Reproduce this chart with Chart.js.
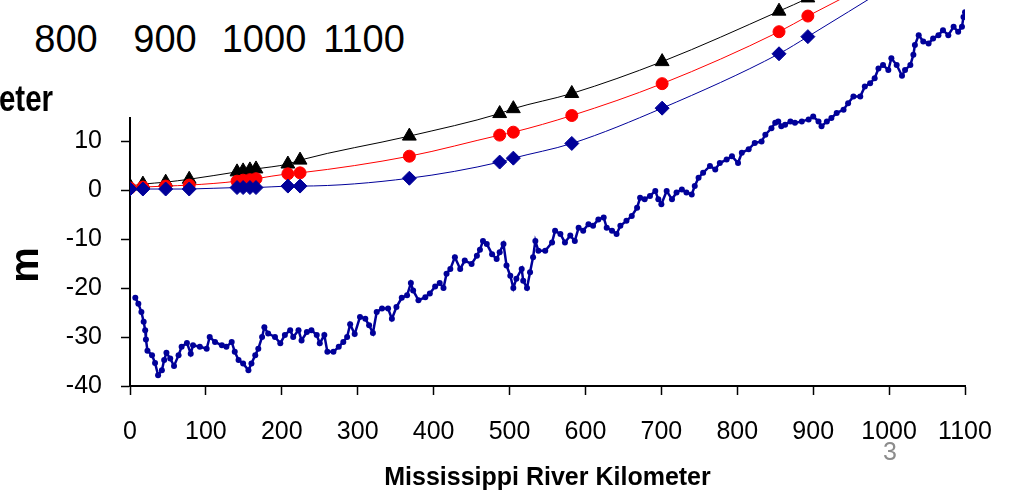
<!DOCTYPE html>
<html>
<head>
<meta charset="utf-8">
<script src="https://cdn.jsdelivr.net/npm/chart.js@4.4.1/dist/chart.umd.min.js"></script>
<style>
html, body { margin: 0; padding: 0; background: #fff; overflow: hidden; }
#wrap { position: relative; width: 1019px; height: 495px; overflow: hidden; font-family: 'Liberation Sans', Arial, sans-serif; }
#grafico { position: absolute; left: 0; top: -40px; }
#cover { position: absolute; left: 0; top: 0; width: 440px; height: 117px; background: #fff; }
.topnum { position: absolute; top: 20px; font-size: 38px; line-height: 38px; transform: translateX(-50%); color: #000; white-space: nowrap; }
#cut { position: absolute; right: 966px; top: 81px; font-size: 36px; line-height: 36px; font-weight: bold; transform: scaleX(0.82); transform-origin: right center; white-space: nowrap; }
#ytitle { position: absolute; left: 24px; top: 265px; font-size: 40px; line-height: 40px; font-weight: bold; transform: translate(-50%, -50%) rotate(-90deg); }
#page { position: absolute; left: 890px; top: 439px; font-size: 25px; line-height: 25px; color: #8c8c8c; transform: translateX(-50%); }
</style>
</head>
<body>
<div id="wrap">
  <canvas id="grafico" width="1019" height="535"></canvas>
  <div id="cover">
    <span class="topnum" style="left:66px">800</span>
    <span class="topnum" style="left:165px">900</span>
    <span class="topnum" style="left:264px">1000</span>
    <span class="topnum" style="left:364px">1100</span>
  </div>
  <div id="cut">eter</div>
  <div id="ytitle">m</div>
  <div id="page">3</div>
</div>
<script>
// gauge stations (river km) and water surface elevations for three stages
const stationKm = [0, 17, 47, 78, 141, 149, 158, 166, 208, 224, 368, 487, 505, 582, 701, 855, 893, 1000]
const stageHigh = [0.8, 1.2, 1.6, 2.2, 3.7, 3.9, 4.1, 4.3, 5.3, 6.1, 11.0, 15.6, 16.6, 19.7, 26.2, 36.5, 39.2, 48.8]
const stageMid = [0.4, 0.6, 0.8, 1.0, 1.8, 2.0, 2.1, 2.3, 3.3, 3.5, 6.9, 11.2, 11.8, 15.2, 21.7, 32.3, 35.5, 44.0]
const stageLow = [0.2, 0.2, 0.2, 0.2, 0.5, 0.5, 0.5, 0.5, 0.8, 0.8, 2.4, 5.7, 6.5, 9.5, 16.7, 27.8, 31.3, 41.5]

// thalweg (river bed) profile
const bedKm = [7, 11, 15, 18, 20, 21, 23, 29, 33, 37, 42, 45, 48, 53, 58, 64, 68, 75, 80, 83,
  92, 101, 105, 112, 121, 127, 134, 138, 143, 149, 156, 160, 165, 169, 174, 177, 182, 191, 198, 204,
  211, 215, 222, 226, 233, 239, 246, 250, 256, 260, 268, 275, 281, 286, 290, 296, 303, 310, 315, 320,
  325, 332, 340, 345, 351, 358, 365, 370, 373, 380, 389, 395, 402, 408, 413, 417, 422, 428, 435, 441,
  450, 457, 461, 465, 470, 477, 483, 487, 492, 496, 501, 505, 509, 516, 518, 523, 527, 531, 534, 538,
  547, 556, 560, 567, 573, 580, 586, 591, 597, 604, 610, 617, 624, 628, 635, 641, 646, 654, 661, 668,
  672, 678, 685, 692, 696, 700, 707, 714, 720, 727, 733, 740, 744, 749, 755, 764, 771, 777, 786, 793,
  801, 806, 815, 823, 832, 837, 845, 850, 854, 858, 863, 870, 876, 885, 894, 900, 907, 911, 918, 924,
  931, 940, 946, 953, 962, 968, 975, 981, 986, 992, 999, 1003, 1010, 1017, 1021, 1028, 1032, 1034, 1039, 1045,
  1052, 1058, 1065, 1071, 1078, 1085, 1091, 1096, 1098, 1100]
const bedElev = [-22.0, -23.2, -24.9, -26.9, -28.6, -30.5, -32.8, -33.7, -35.3, -37.8, -36.8, -34.7, -33.2, -34.4, -35.9, -33.7, -32.0, -31.2, -33.4, -31.7,
  -32.0, -32.4, -30.0, -31.0, -31.7, -32.0, -31.0, -33.0, -34.7, -35.4, -36.8, -35.4, -33.7, -32.4, -30.0, -28.0, -29.3, -30.0, -31.3, -29.6,
  -28.6, -30.0, -28.6, -30.7, -29.0, -28.6, -29.6, -31.3, -29.6, -33.0, -33.0, -32.0, -31.0, -30.0, -27.4, -29.4, -25.9, -26.3, -27.6, -29.2,
  -24.9, -24.2, -24.2, -26.3, -23.9, -22.0, -21.5, -19.0, -20.5, -22.5, -21.9, -21.1, -19.7, -19.0, -20.0, -17.1, -16.1, -13.7, -16.1, -14.4,
  -15.1, -13.4, -12.2, -10.4, -11.0, -13.1, -14.1, -12.7, -11.0, -15.4, -17.5, -20.0, -18.1, -16.1, -18.5, -20.0, -16.8, -13.7, -10.4, -12.4,
  -12.4, -10.7, -8.3, -9.0, -10.7, -9.3, -10.4, -7.7, -8.3, -7.0, -7.3, -6.0, -5.6, -7.7, -8.3, -9.0, -7.3, -6.3, -5.3, -3.6,
  -1.6, -1.9, -1.2, -0.2, -1.9, -2.9, -0.2, -1.9, -0.5, 0.1, -0.5, -0.9, 0.8, 2.5, 3.5, 4.9, 4.2, 5.5, 6.2, 6.9,
  5.5, 7.6, 8.3, 9.6, 9.9, 11.3, 12.6, 13.7, 14.0, 13.0, 13.3, 14.0, 13.7, 14.0, 14.4, 15.0, 14.0, 13.0, 14.0, 14.7,
  15.7, 16.4, 17.7, 19.1, 19.1, 21.1, 21.8, 22.8, 24.8, 25.5, 24.5, 26.9, 25.5, 23.3, 24.5, 25.5, 27.6, 29.6, 31.6, 30.3,
  29.9, 30.9, 31.6, 32.6, 31.6, 33.3, 32.3, 33.3, 35.3, 36.3]

const xTicks = [0, 100, 200, 300, 400, 500, 600, 700, 800, 900, 1000, 1100]
const yTicks = [-40, -30, -20, -10, 0, 10, 20, 30, 40]

const fontFamily = "'Liberation Sans', Arial, sans-serif"

function toPoints(xs, ys){
    return xs.map((x, i) => ({x: x, y: ys[i]}))
}

function stageSet(values, color, style, radius, order){
    return {
        data: toPoints(stationKm, values),
        showLine: true,
        borderColor: color,
        borderWidth: 1,
        cubicInterpolationMode: 'monotone',
        pointStyle: style,
        pointRadius: radius,
        pointBackgroundColor: color,
        pointBorderColor: color,
        pointBorderWidth: 1,
        order: order
    }
}

const canvas = document.getElementById('grafico')
const chart = new Chart(canvas, {
    type: 'scatter',
    data: {
        datasets: [
            stageSet(stageHigh, '#000000', 'triangle', 8, 3),
            stageSet(stageMid, '#ff0000', 'circle', 6, 2),
            stageSet(stageLow, '#000099', 'rectRot', 7, 1),
            {
                data: toPoints(bedKm, bedElev),
                showLine: true,
                borderColor: '#000099',
                borderWidth: 2.5,
                pointRadius: 3,
                pointBackgroundColor: '#000099',
                pointBorderWidth: 0,
                order: 5
            }
        ]
    },
    options: {
        responsive: false,
        animation: false,
        devicePixelRatio: 1,
        layout: {padding: {top: 20, right: 54, bottom: 0, left: 0}},
        plugins: {legend: {display: false}, tooltip: {enabled: false}},
        scales: {
            x: {
                type: 'linear',
                min: xTicks[0],
                max: xTicks[xTicks.length - 1],
                afterBuildTicks: scale => { scale.ticks = xTicks.map(v => ({value: v})) },
                afterFit: scale => { scale.height = 109 },
                ticks: {color: '#000', font: {family: fontFamily, size: 25}, padding: 22, maxRotation: 0, autoSkip: false, callback: v => String(v)},
                grid: {drawOnChartArea: false, tickLength: 9, tickColor: '#000', tickWidth: 1.5},
                border: {color: '#000', width: 2},
                title: {
                    display: true,
                    text: 'Mississippi River Kilometer',
                    color: '#000',
                    font: {family: fontFamily, size: 25, weight: 'bold'},
                    padding: {top: 0, bottom: 2}
                }
            },
            y: {
                min: yTicks[0],
                max: yTicks[yTicks.length - 1],
                afterBuildTicks: scale => { scale.ticks = yTicks.map(v => ({value: v})) },
                afterFit: scale => { scale.width = 130 },
                ticks: {color: '#000', font: {family: fontFamily, size: 25}, padding: 19, callback: v => String(v)},
                grid: {drawOnChartArea: false, tickLength: 9, tickColor: '#000', tickWidth: 1.5},
                border: {color: '#000', width: 2}
            }
        }
    }
})
</script>
</body>
</html>
